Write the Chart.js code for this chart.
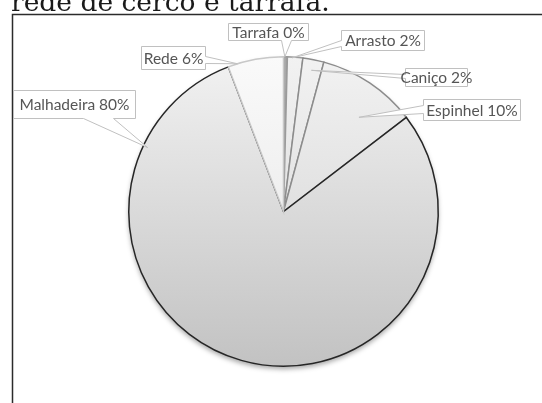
<!DOCTYPE html>
<html>
<head>
<meta charset="utf-8">
<script src="https://cdn.jsdelivr.net/npm/chart.js"></script>
<style>
  html, body { margin: 0; padding: 0; background: #fff; }
  #pie { display: block; }
</style>
</head>
<body>
<canvas id="pie" width="542" height="403"></canvas>
<script>
const categories = ['Tarrafa', 'Arrasto', 'Caniço', 'Espinhel', 'Malhadeira', 'Rede']
const values = [0.4, 1.6, 2.2, 10.4, 79.6, 5.8]
const titleText = 'rede de cerco e tarrafa.'

const sliceTop = ['#a8a8a8', '#f2f2f2', '#f2f2f2', '#f2f2f2', '#f2f2f2', '#fafafa']
const sliceBottom = ['#a0a0a0', '#d2d2d2', '#d2d2d2', '#cfcfcf', '#c2c2c2', '#e2e2e2']
const sliceBorder = ['#9a9a9a', '#9a9a9a', '#8c8c8c', '#8c8c8c', '#262626', '#c8c8c8']

// callout boxes: [x, y, w, h], side the tail leaves from, tail base span, tip as angle (deg) / radius ratio
const callouts = [
  { box: [228, 23, 80, 17], side: 'bottom', base: [281, 291], angle: 0.5, r: 1.0 },
  { box: [341, 30, 83, 20], side: 'left', base: [40, 46], angle: 3.3, r: 0.995 },
  { box: [405, 68, 62, 18], side: 'left', base: [74, 78], angle: 11.2, r: 0.93 },
  { box: [423, 99, 97, 21], side: 'left', base: [105, 113], angle: 38.7, r: 0.78 },
  { box: [13, 90, 122, 28], side: 'bottom', base: [83, 113], angle: 295.2, r: 0.97 },
  { box: [141, 46, 64, 23], side: 'right', base: [56, 63], angle: 342.7, r: 1.0 }
]

function sliceFill(context) {
  const chart = context.chart
  const area = chart.chartArea
  if (!area) return sliceTop[context.dataIndex]
  const g = chart.ctx.createLinearGradient(0, area.top, 0, area.bottom)
  g.addColorStop(0, sliceTop[context.dataIndex])
  g.addColorStop(1, sliceBottom[context.dataIndex])
  return g
}

const pageBits = {
  id: 'pageBits',
  beforeDraw(chart) {
    const ctx = chart.ctx
    ctx.save()
    ctx.fillStyle = '#1a1a1a'
    ctx.font = '26.5px "DejaVu Serif"'
    ctx.textBaseline = 'alphabetic'
    ctx.fillText(titleText, 11, 10.5)
    ctx.strokeStyle = '#2b2b2b'
    ctx.lineWidth = 1.5
    ctx.beginPath()
    ctx.moveTo(12.5, 403)
    ctx.lineTo(12.5, 14.5)
    ctx.lineTo(542, 14.5)
    ctx.stroke()
    ctx.restore()
  },
  beforeDatasetsDraw(chart) {
    const arc = chart.getDatasetMeta(0).data[0]
    const ctx = chart.ctx
    ctx.save()
    ctx.shadowColor = 'rgba(0,0,0,0.35)'
    ctx.shadowBlur = 5
    ctx.shadowOffsetY = 3
    ctx.fillStyle = '#c8c8c8'
    ctx.beginPath()
    ctx.arc(arc.x, arc.y, arc.outerRadius, 0, Math.PI * 2)
    ctx.fill()
    ctx.restore()
  }
}

function calloutPath(ctx, c, tip) {
  const x = c.box[0] + 0.5, y = c.box[1] + 0.5
  const w = c.box[2], h = c.box[3]
  const a = c.base[0] + 0.5, b = c.base[1] + 0.5
  ctx.beginPath()
  ctx.moveTo(x, y)
  ctx.lineTo(x + w, y)
  if (c.side === 'right') {
    ctx.lineTo(x + w, a); ctx.lineTo(tip.x, tip.y); ctx.lineTo(x + w, b)
  }
  ctx.lineTo(x + w, y + h)
  if (c.side === 'bottom') {
    ctx.lineTo(b, y + h); ctx.lineTo(tip.x, tip.y); ctx.lineTo(a, y + h)
  }
  ctx.lineTo(x, y + h)
  if (c.side === 'left') {
    ctx.lineTo(x, b); ctx.lineTo(tip.x, tip.y); ctx.lineTo(x, a)
  }
  ctx.closePath()
}

const calloutLabels = {
  id: 'calloutLabels',
  afterDatasetsDraw(chart) {
    const arc = chart.getDatasetMeta(0).data[0]
    const ctx = chart.ctx
    ctx.save()
    ctx.lineWidth = 1
    ctx.font = '15.5px Lato'
    ctx.textAlign = 'center'
    ctx.textBaseline = 'middle'
    callouts.forEach((c, i) => {
      const rad = c.angle * Math.PI / 180
      const tip = {
        x: arc.x + arc.outerRadius * c.r * Math.sin(rad),
        y: arc.y - arc.outerRadius * c.r * Math.cos(rad)
      }
      calloutPath(ctx, c, tip)
      ctx.fillStyle = '#fff'
      ctx.fill()
      ctx.strokeStyle = '#c0c0c0'
      ctx.stroke()
      ctx.fillStyle = '#555555'
      const text = categories[i] + ' ' + Math.round(values[i]) + '%'
      ctx.fillText(text, c.box[0] + c.box[2] / 2 + 0.5, c.box[1] + c.box[3] / 2 + 1)
    })
    ctx.restore()
  }
}

const pieCanvas = document.getElementById('pie')

new Chart(pieCanvas, {
  type: 'pie',
  data: {
    labels: categories,
    datasets: [{
      data: values,
      backgroundColor: sliceFill,
      borderColor: sliceBorder,
      borderWidth: 1.5,
      borderJoinStyle: 'miter'
    }]
  },
  options: {
    responsive: false,
    animation: false,
    layout: { padding: { left: 128, right: 103, top: 56, bottom: 36 } },
    plugins: {
      legend: { display: false },
      tooltip: { enabled: false }
    }
  },
  plugins: [pageBits, calloutLabels]
})
</script>
</body>
</html>
